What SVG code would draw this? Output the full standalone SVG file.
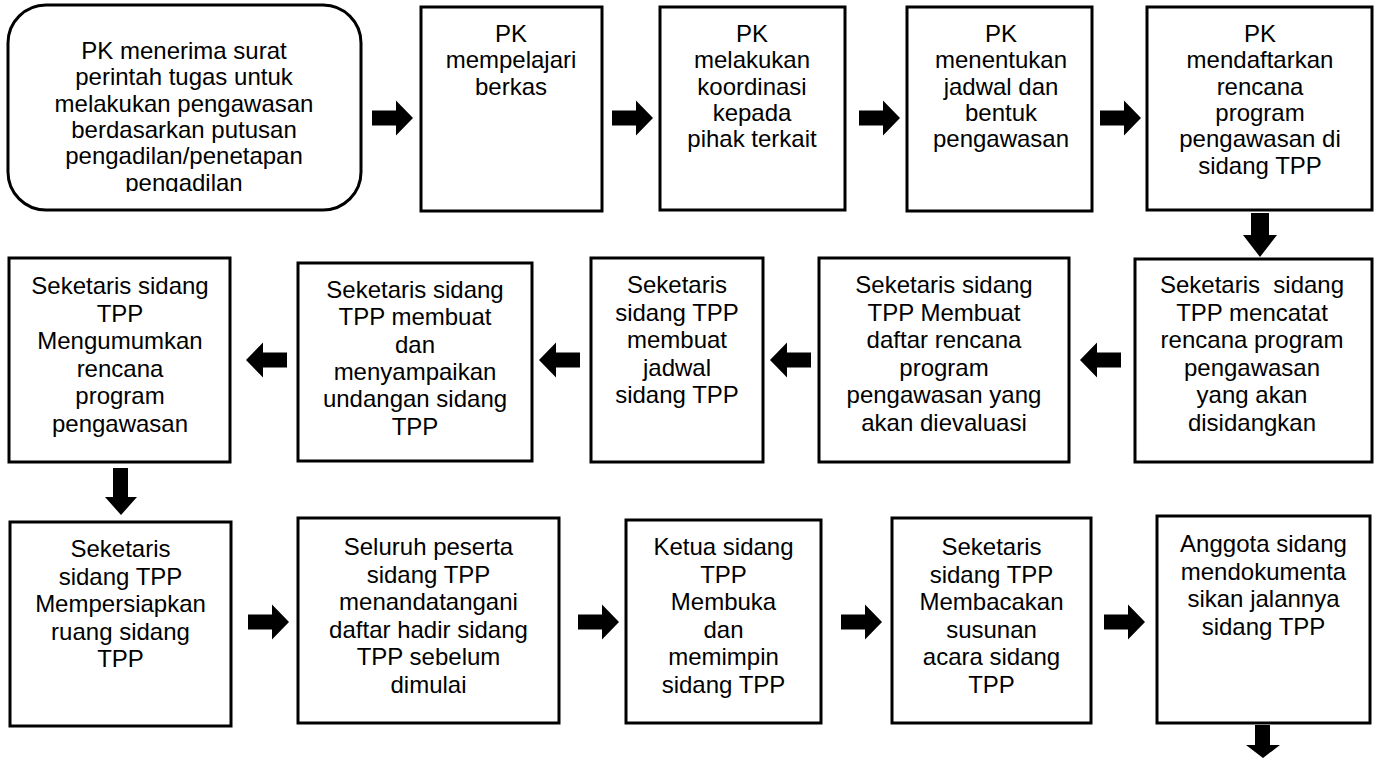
<svg xmlns="http://www.w3.org/2000/svg" xmlns:xlink="http://www.w3.org/1999/xlink" width="1374" height="759" viewBox="0 0 1374 759">
<style>
.box{fill:#fff;stroke:#000;stroke-width:3}
.t{font-family:"Liberation Sans",Arial,sans-serif;font-size:24px;text-anchor:middle;fill:#000;white-space:pre}
.arr{fill:#000}
</style>
<defs>
<path id="ra" d="M0,-7.5 H24 V-17.5 L41,0 L24,17.5 V7.5 H0 Z"/>
<clipPath id="c1"><rect x="8" y="5" width="353" height="187"/></clipPath>
</defs>
<rect width="1374" height="759" fill="#fff"/>
<g id="connectors" class="arr">
<use xlink:href="#ra" href="#ra" transform="translate(372,118)"/>
<use xlink:href="#ra" href="#ra" transform="translate(612,118)"/>
<use xlink:href="#ra" href="#ra" transform="translate(859,118)"/>
<use xlink:href="#ra" href="#ra" transform="translate(1100,118)"/>
<path d="M1251,213 H1269 V235 H1277 L1260,257 L1243,235 H1251 Z"/>
<use xlink:href="#ra" href="#ra" transform="translate(1121,360) scale(-1,1)"/>
<use xlink:href="#ra" href="#ra" transform="translate(811,360) scale(-1,1)"/>
<use xlink:href="#ra" href="#ra" transform="translate(580,360) scale(-1,1)"/>
<use xlink:href="#ra" href="#ra" transform="translate(287,360) scale(-1,1)"/>
<path d="M113,468 H128 V497 H137 L121,515 L105,497 H113 Z"/>
<use xlink:href="#ra" href="#ra" transform="translate(248,622)"/>
<use xlink:href="#ra" href="#ra" transform="translate(578,622)"/>
<use xlink:href="#ra" href="#ra" transform="translate(841,622)"/>
<use xlink:href="#ra" href="#ra" transform="translate(1104,622)"/>
<path d="M1255,725 H1270 V745 H1280 L1263,758 L1246,745 H1255 Z"/>
</g>
<g id="n1">
<rect class="box" x="8" y="5" width="353" height="205" rx="38" ry="38"/>
<g clip-path="url(#c1)">
<text class="t" x="184" y="59">PK menerima surat</text>
<text class="t" x="184" y="85.3">perintah tugas untuk</text>
<text class="t" x="184" y="111.6">melakukan pengawasan</text>
<text class="t" x="184" y="137.9">berdasarkan putusan</text>
<text class="t" x="184" y="164.2">pengadilan/penetapan</text>
<text class="t" x="184" y="190.5">pengadilan</text>
</g>
</g>
<g id="n2">
<rect class="box" x="421" y="7" width="181" height="204"/>
<text class="t" x="511" y="42">PK</text>
<text class="t" x="511" y="68.3">mempelajari</text>
<text class="t" x="511" y="94.6">berkas</text>
</g>
<g id="n3">
<rect class="box" x="660" y="7" width="185" height="203"/>
<text class="t" x="752" y="42">PK</text>
<text class="t" x="752" y="68.3">melakukan</text>
<text class="t" x="752" y="94.6">koordinasi</text>
<text class="t" x="752" y="120.9">kepada</text>
<text class="t" x="752" y="147.2">pihak terkait</text>
</g>
<g id="n4">
<rect class="box" x="907" y="7" width="185" height="204"/>
<text class="t" x="1001" y="42">PK</text>
<text class="t" x="1001" y="68.3">menentukan</text>
<text class="t" x="1001" y="94.6">jadwal dan</text>
<text class="t" x="1001" y="120.9">bentuk</text>
<text class="t" x="1001" y="147.2">pengawasan</text>
</g>
<g id="n5">
<rect class="box" x="1147" y="7" width="225" height="203"/>
<text class="t" x="1260" y="42">PK</text>
<text class="t" x="1260" y="68.3">mendaftarkan</text>
<text class="t" x="1260" y="94.6">rencana</text>
<text class="t" x="1260" y="120.9">program</text>
<text class="t" x="1260" y="147.2">pengawasan di</text>
<text class="t" x="1260" y="173.5">sidang TPP</text>
</g>
<g id="n6">
<rect class="box" x="1135" y="259" width="237" height="203"/>
<text class="t" x="1252" y="293">Seketaris  sidang</text>
<text class="t" x="1252" y="320.5">TPP mencatat</text>
<text class="t" x="1252" y="348">rencana program</text>
<text class="t" x="1252" y="375.5">pengawasan</text>
<text class="t" x="1252" y="403">yang akan</text>
<text class="t" x="1252" y="430.5">disidangkan</text>
</g>
<g id="n7">
<rect class="box" x="819" y="258" width="250" height="204"/>
<text class="t" x="944" y="293">Seketaris sidang</text>
<text class="t" x="944" y="320.5">TPP Membuat</text>
<text class="t" x="944" y="348">daftar rencana</text>
<text class="t" x="944" y="375.5">program</text>
<text class="t" x="944" y="403">pengawasan yang</text>
<text class="t" x="944" y="430.5">akan dievaluasi</text>
</g>
<g id="n8">
<rect class="box" x="591" y="258" width="172" height="204"/>
<text class="t" x="677" y="293">Seketaris</text>
<text class="t" x="677" y="320.5">sidang TPP</text>
<text class="t" x="677" y="348">membuat</text>
<text class="t" x="677" y="375.5">jadwal</text>
<text class="t" x="677" y="403">sidang TPP</text>
</g>
<g id="n9">
<rect class="box" x="298" y="263" width="234" height="198"/>
<text class="t" x="415" y="298">Seketaris sidang</text>
<text class="t" x="415" y="325.3">TPP membuat</text>
<text class="t" x="415" y="352.6">dan</text>
<text class="t" x="415" y="379.9">menyampaikan</text>
<text class="t" x="415" y="407.2">undangan sidang</text>
<text class="t" x="415" y="434.5">TPP</text>
</g>
<g id="n10">
<rect class="box" x="9" y="258" width="221" height="204"/>
<text class="t" x="120" y="294">Seketaris sidang</text>
<text class="t" x="120" y="321.5">TPP</text>
<text class="t" x="120" y="349">Mengumumkan</text>
<text class="t" x="120" y="376.5">rencana</text>
<text class="t" x="120" y="404">program</text>
<text class="t" x="120" y="431.5">pengawasan</text>
</g>
<g id="n11">
<rect class="box" x="10" y="522" width="221" height="204"/>
<text class="t" x="120.5" y="557">Seketaris</text>
<text class="t" x="120.5" y="584.6">sidang TPP</text>
<text class="t" x="120.5" y="612.2">Mempersiapkan</text>
<text class="t" x="120.5" y="639.8">ruang sidang</text>
<text class="t" x="120.5" y="667.4">TPP</text>
</g>
<g id="n12">
<rect class="box" x="298" y="518" width="261" height="205"/>
<text class="t" x="428.5" y="555">Seluruh peserta</text>
<text class="t" x="428.5" y="582.6">sidang TPP</text>
<text class="t" x="428.5" y="610.2">menandatangani</text>
<text class="t" x="428.5" y="637.8">daftar hadir sidang</text>
<text class="t" x="428.5" y="665.4">TPP sebelum</text>
<text class="t" x="428.5" y="693">dimulai</text>
</g>
<g id="n13">
<rect class="box" x="626" y="520" width="195" height="203"/>
<text class="t" x="723.5" y="555">Ketua sidang</text>
<text class="t" x="723.5" y="582.6">TPP</text>
<text class="t" x="723.5" y="610.2">Membuka</text>
<text class="t" x="723.5" y="637.8">dan</text>
<text class="t" x="723.5" y="665.4">memimpin</text>
<text class="t" x="723.5" y="693">sidang TPP</text>
</g>
<g id="n14">
<rect class="box" x="892" y="518" width="199" height="205"/>
<text class="t" x="991.5" y="555">Seketaris</text>
<text class="t" x="991.5" y="582.6">sidang TPP</text>
<text class="t" x="991.5" y="610.2">Membacakan</text>
<text class="t" x="991.5" y="637.8">susunan</text>
<text class="t" x="991.5" y="665.4">acara sidang</text>
<text class="t" x="991.5" y="693">TPP</text>
</g>
<g id="n15">
<rect class="box" x="1157" y="516" width="213" height="207"/>
<text class="t" x="1263.5" y="552">Anggota sidang</text>
<text class="t" x="1263.5" y="579.6">mendokumenta</text>
<text class="t" x="1263.5" y="607.2">sikan jalannya</text>
<text class="t" x="1263.5" y="634.8">sidang TPP</text>
</g>
</svg>
